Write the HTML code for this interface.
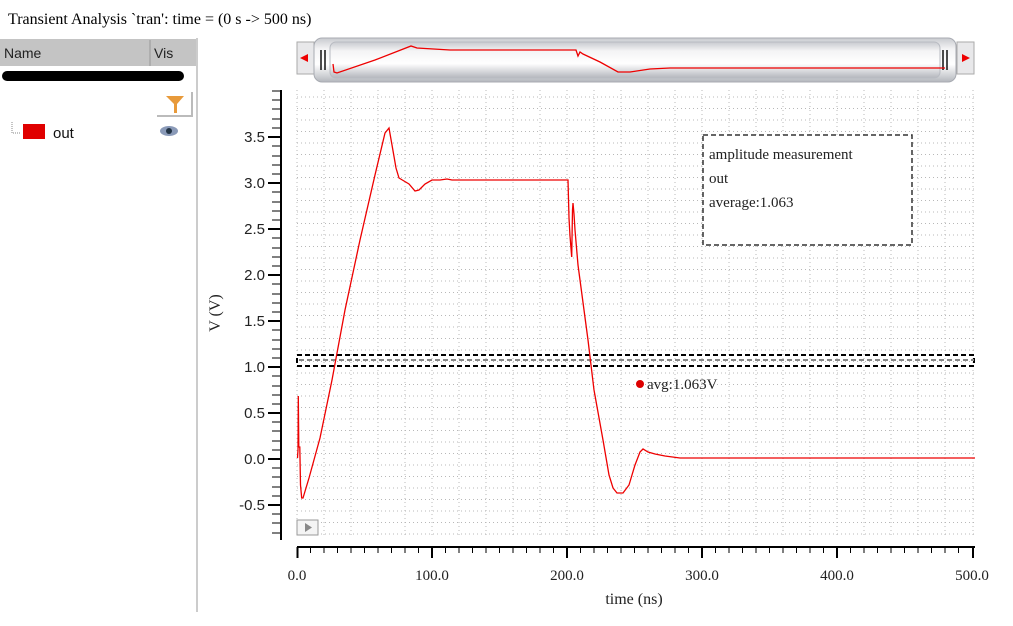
<!DOCTYPE html>
<html><head><meta charset="utf-8"><style>
body{margin:0;width:1013px;height:626px;background:#fff;overflow:hidden;position:relative;font-family:"Liberation Sans",sans-serif}
</style></head><body>
<svg width="1013" height="626" xmlns="http://www.w3.org/2000/svg" style="position:absolute;left:0;top:0">
<defs>
<linearGradient id="pill" x1="0" y1="0" x2="0" y2="1">
<stop offset="0" stop-color="#c8cacf"/><stop offset="0.25" stop-color="#f4f4f5"/><stop offset="0.6" stop-color="#ffffff"/><stop offset="1" stop-color="#b4b7bd"/></linearGradient>
<pattern id="gv" width="27.04" height="4" patternUnits="userSpaceOnUse" x="297" y="0"><rect x="0" y="0" width="1" height="1" fill="#b0b0b0"/></pattern>
</defs>
<text x="8" y="24" font-family="Liberation Serif, serif" font-size="16" fill="#000">Transient Analysis `tran': time = (0 s -&gt; 500 ns)</text>
<!-- left panel -->
<rect x="0" y="39" width="196" height="27" fill="#c4c4c4"/>
<line x1="150" y1="40" x2="150" y2="66" stroke="#999"/>
<text x="4" y="58" font-size="14" fill="#222">Name</text>
<text x="154" y="58" font-size="14" fill="#222">Vis</text>
<rect x="2" y="71" width="182" height="10" rx="5" fill="#000"/>
<line x1="197" y1="38" x2="197" y2="612" stroke="#ccc" stroke-width="2"/>
<path d="M157 116 H192 V92" stroke="#bbb" fill="none" stroke-width="2"/>
<path d="M166 96 H184 L177 104 V113 H174 V104 Z" fill="#e89a3a"/>
<path d="M12 122 V133 H20" stroke="#888" stroke-dasharray="1,1" fill="none"/>
<rect x="23" y="124" width="22" height="15" fill="#e00000"/>
<text x="53" y="138" font-size="15" fill="#111">out</text>
<ellipse cx="169" cy="131" rx="9" ry="5" fill="#8a9ab8"/><circle cx="169" cy="131" r="3" fill="#234"/>
<!-- scrollbar -->
<rect x="297" y="42" width="17" height="32" fill="#e8e8ea" stroke="#aaa"/>
<path d="M300 58 L308 54 V62 Z" fill="#e00"/>
<rect x="957" y="42" width="17" height="32" fill="#e8e8ea" stroke="#aaa"/>
<path d="M970 58 L962 54 V62 Z" fill="#e00"/>
<rect x="314" y="38" width="642" height="44" rx="8" fill="url(#pill)" stroke="#a8abb2"/>
<rect x="330" y="42" width="610" height="36" rx="6" fill="url(#pill)" stroke="#b8bbc2"/>
<path d="M321 50 V70 M325 50 V70 M943 50 V70 M947 50 V70" stroke="#111" stroke-width="1.5"/>
<polyline fill="none" stroke="#e00" stroke-width="1.3" points="333,64 334,72 337,73 375,60 411,46 417,48 450,50 576,50 578,56 580,52 583,54 600,62 618,72 630,72 650,69 670,68 945,68"/>
<!-- grid -->
<g stroke="#b4b4b4" stroke-dasharray="1,3" stroke-width="1">
<g id="vg"></g>
</g>
<g stroke="#b8b8b8" stroke-dasharray="1,3">
<path d="M297 90V538M324 90V538M351 90V538M378 90V538M405 90V538M432 90V538M459 90V538M486 90V538M513 90V538M540 90V538M567 90V538M594 90V538M621 90V538M648 90V538M675 90V538M702 90V538M729 90V538M756 90V538M783 90V538M810 90V538M837 90V538M864 90V538M891 90V538M918 90V538M945 90V538M973 90V538"/>
<path d="M297 97H975M297 108.5H975M297 120H975M297 131.5H975M297 143H975M297 154.5H975M297 166H975M297 177.5H975M297 189H975M297 200.5H975M297 212H975M297 223.5H975M297 235H975M297 246.5H975M297 258H975M297 269.5H975M297 281H975M297 292.5H975M297 304H975M297 315.5H975M297 327H975M297 338.5H975M297 350H975M297 361.5H975M297 373H975M297 384.5H975M297 396H975M297 407.5H975M297 419H975M297 430.5H975M297 442H975M297 453.5H975M297 465H975M297 476.5H975M297 488H975M297 499.5H975M297 511H975M297 522.5H975M297 534H975"/>
</g>
<!-- y axis -->
<line x1="281" y1="90" x2="281" y2="540" stroke="#000" stroke-width="2"/>
<g stroke="#000" stroke-width="1">
<path d="M272 91H281M272 100H281M272 109H281M272 119H281M272 128H281M272 146H281M272 156H281M272 165H281M272 174H281M272 192H281M272 202H281M272 211H281M272 220H281M272 238H281M272 248H281M272 257H281M272 266H281M272 284H281M272 294H281M272 303H281M272 312H281M272 330H281M272 340H281M272 349H281M272 358H281M272 376H281M272 386H281M272 395H281M272 404H281M272 422H281M272 431H281M272 441H281M272 450H281M272 468H281M272 477H281M272 487H281M272 496H281M272 514H281M272 523H281M272 533H281"/>
<path d="M268 137H281M268 183H281M268 229H281M268 275H281M268 321H281M268 367H281M268 413H281M268 459H281M268 505H281" stroke-width="2"/>
</g>
<g font-size="15" fill="#222" text-anchor="end">
<text x="265" y="142">3.5</text><text x="265" y="188">3.0</text><text x="265" y="234">2.5</text><text x="265" y="280">2.0</text><text x="265" y="326">1.5</text><text x="265" y="372">1.0</text><text x="265" y="418">0.5</text><text x="265" y="464">0.0</text><text x="265" y="510">-0.5</text>
</g>
<text transform="translate(220,313) rotate(-90)" font-family="Liberation Serif, serif" font-size="16" text-anchor="middle" fill="#222">V (V)</text>
<!-- x axis -->
<line x1="297" y1="547" x2="975" y2="547" stroke="#000" stroke-width="2"/>
<g stroke="#000">
<path d="M310.5 547V553M324 547V553M337.5 547V553M351 547V553M364.5 547V553M378 547V553M391.5 547V553M405 547V553M418.5 547V553M445.5 547V553M459 547V553M472.5 547V553M486 547V553M499.5 547V553M513 547V553M526.5 547V553M540 547V553M553.5 547V553M580.5 547V553M594 547V553M607.5 547V553M621 547V553M634.5 547V553M648 547V553M661.5 547V553M675 547V553M688.5 547V553M715.5 547V553M729 547V553M742.5 547V553M756 547V553M769.5 547V553M783 547V553M796.5 547V553M810 547V553M823.5 547V553M850.5 547V553M864 547V553M877.5 547V553M891 547V553M904.5 547V553M918 547V553M931.5 547V553M945 547V553M958.5 547V553"/>
<path d="M297.5 547V558M432 547V558M567 547V558M702 547V558M837 547V558M973 547V558" stroke-width="2"/>
</g>
<g font-family="Liberation Serif, serif" font-size="15" fill="#222" text-anchor="middle">
<text x="297" y="580">0.0</text><text x="432" y="580">100.0</text><text x="567" y="580">200.0</text><text x="702" y="580">300.0</text><text x="837" y="580">400.0</text><text x="972" y="580">500.0</text>
<text x="634" y="604" font-size="16">time (ns)</text>
</g>
<!-- band -->
<rect x="297" y="355" width="677" height="11" fill="none" stroke="#000" stroke-width="2" stroke-dasharray="5,3"/>
<line x1="299" y1="360" x2="974" y2="360" stroke="#888" stroke-width="2" stroke-dasharray="5,3"/>
<!-- waveform -->
<polyline fill="none" stroke="#e00" stroke-width="1.3" points="297.5,458 298,450 298.3,396 298.8,447 299.8,447 300.5,485 301.7,498 303,498 309,478 320,438 332,380 345,310 360,240 375,175 385,133 389,128 392,145 396,168 399,178 404,181 409,184 415,191 419,190 425,184 432,180 440,180 447,179 452,180 568,180 569,218 570,236 571.7,257 572.5,210 573,203 574,214 575,230 578,265 584,310 588,340 594,390 603,440 609,475 613,488 617,493 623,493 629,485 635,465 640,452 643,449 648,452 655,454 665,456 680,458 690,458 975,458"/>
<!-- annotations -->
<circle cx="640" cy="384" r="4" fill="#d00"/>
<text x="647" y="389" font-family="Liberation Serif, serif" font-size="15" fill="#222">avg:1.063V</text>
<rect x="703" y="135" width="209" height="110" fill="#fff" stroke="#333" stroke-width="1.5" stroke-dasharray="5,3"/>
<g font-family="Liberation Serif, serif" font-size="15" fill="#222">
<text x="709" y="159">amplitude measurement</text><text x="709" y="183">out</text><text x="709" y="207">average:1.063</text>
</g>
<rect x="297" y="520" width="21" height="15" fill="#f4f4f4" stroke="#999"/>
<path d="M305 523 L312 527.5 L305 532 Z" fill="#888"/>
</svg>
</body></html>
